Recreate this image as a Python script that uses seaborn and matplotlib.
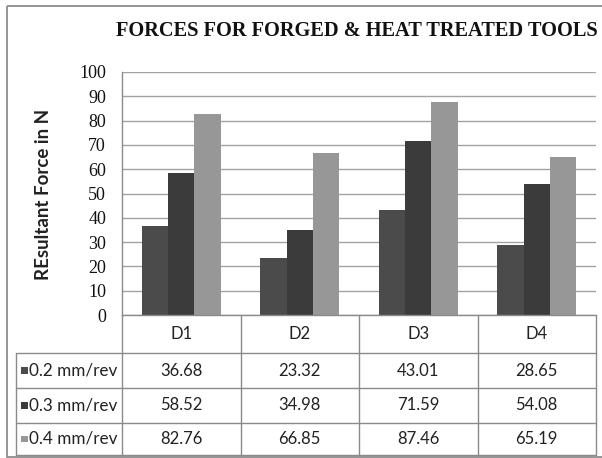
import numpy as np
import pandas as pd
import matplotlib
matplotlib.use("Agg")
import matplotlib.pyplot as plt
from matplotlib.patches import Rectangle
from matplotlib.lines import Line2D
from matplotlib.transforms import blended_transform_factory
import seaborn as sns

# ---- data ----
designs = ["D1", "D2", "D3", "D4"]
feeds = ["0.2 mm/rev", "0.3 mm/rev", "0.4 mm/rev"]
force_02 = [36.68, 23.32, 43.01, 28.65]
force_03 = [58.52, 34.98, 71.59, 54.08]
force_04 = [82.76, 66.85, 87.46, 65.19]
y_ticks = [0, 10, 20, 30, 40, 50, 60, 70, 80, 90, 100]

series = [force_02, force_03, force_04]
colors = ["#4b4b4b", "#3b3b3b", "#979797"]

df = pd.DataFrame({
    "design": np.repeat([designs], len(feeds), axis=0).ravel(),
    "feed": np.repeat(feeds, len(designs)),
    "force": np.concatenate(series),
})

sns.set_style("white")
plt.rcParams["font.family"] = ["Lato", "DejaVu Sans"]

W, H = 602, 458
fig = plt.figure(figsize=(W / 100, H / 100), dpi=100)
fig.patch.set_facecolor("white")

# plot area in pixel units
px_l, px_r, px_t, px_b = 122, 596, 72, 315
ax = fig.add_axes([px_l / W, 1 - px_b / H, (px_r - px_l) / W, (px_b - px_t) / H])

sns.barplot(data=df, x="design", y="force", hue="feed", hue_order=feeds,
            order=designs, palette=colors, width=0.667, saturation=1,
            linewidth=0, errorbar=None, legend=False, ax=ax)

ax.set_ylim(0, 100)
ax.set_xlim(-0.5, len(designs) - 0.5)
ax.set_yticks(y_ticks)
ax.set_yticklabels([str(t) for t in y_ticks], fontfamily="Liberation Serif",
                   fontsize=13, color="#111111")
ax.tick_params(axis="y", length=0, pad=11.5)
ax.set_xticks([])
ax.set_xlabel("")
ax.set_ylabel("")
ax.yaxis.grid(True, color="#a3a3a3", linewidth=1.0)
ax.set_axisbelow(True)
for s in ["top", "right"]:
    ax.spines[s].set_visible(False)
for s in ["left", "bottom"]:
    ax.spines[s].set_color("#8a8a8a")
    ax.spines[s].set_linewidth(1.0)

# overlay in pixel coordinates for frame, title and data table
ov = fig.add_axes([0, 0, 1, 1], zorder=5)
ov.set_xlim(0, W)
ov.set_ylim(H, 0)
ov.axis("off")
tr = blended_transform_factory(ax.transData, ov.transData)

line_c = "#8a8a8a"

# outer chart frame
ov.add_patch(Rectangle((7, 6), W + 10, 451, fill=False, edgecolor="#8c8c8c",
                       linewidth=1.3, clip_on=False))

# title
ov.text(357, 36, "FORCES FOR FORGED & HEAT TREATED TOOLS",
        fontfamily="Liberation Serif", fontweight="bold", fontsize=14.7,
        ha="center", va="baseline", color="#111111")

# axis label
ov.text(44, 194, "REsultant Force in N", rotation=90, ha="center", va="center",
        fontweight="bold", fontsize=13.5, color="#222222")

# data table
row_y = [315, 353, 388, 423, 455]
tab_left_px = 16
n = len(designs)
xr = n - 0.5
# vertical column lines (data x)
for k in range(n + 1):
    xv = k - 0.5
    ov.add_line(Line2D([xv, xv], [row_y[0], row_y[-1]], transform=tr,
                       color=line_c, linewidth=1.0, clip_on=False))
# left edge of row label column
ov.add_line(Line2D([tab_left_px, tab_left_px], [row_y[1], row_y[-1]],
                   color=line_c, linewidth=1.0))
# horizontal row lines
for yv in row_y[1:]:
    x0 = ax.transData.inverted().transform(ov.transData.transform((tab_left_px, yv)))[0]
    ov.add_line(Line2D([x0, xr], [yv, yv], transform=tr, color=line_c,
                       linewidth=1.0, clip_on=False))

# header row
hy = (row_y[0] + row_y[1]) / 2
for i, d in enumerate(designs):
    ov.text(i, hy, d, transform=tr, ha="center", va="center",
            fontsize=12, color="#222222")

# series rows
for r, (lab, vals, c) in enumerate(zip(feeds, series, colors)):
    cy = (row_y[r + 1] + row_y[r + 2]) / 2
    ov.add_patch(Rectangle((21, cy - 3.5), 6.5, 6.5, facecolor=c,
                           edgecolor="none"))
    ov.text(29, cy, lab, ha="left", va="center", fontsize=12.3,
            color="#222222")
    for i, v in enumerate(vals):
        ov.text(i, cy, f"{v:.2f}", transform=tr, ha="center", va="center",
                fontsize=12, color="#222222")

fig.savefig("out.png", dpi=100, facecolor="white")
